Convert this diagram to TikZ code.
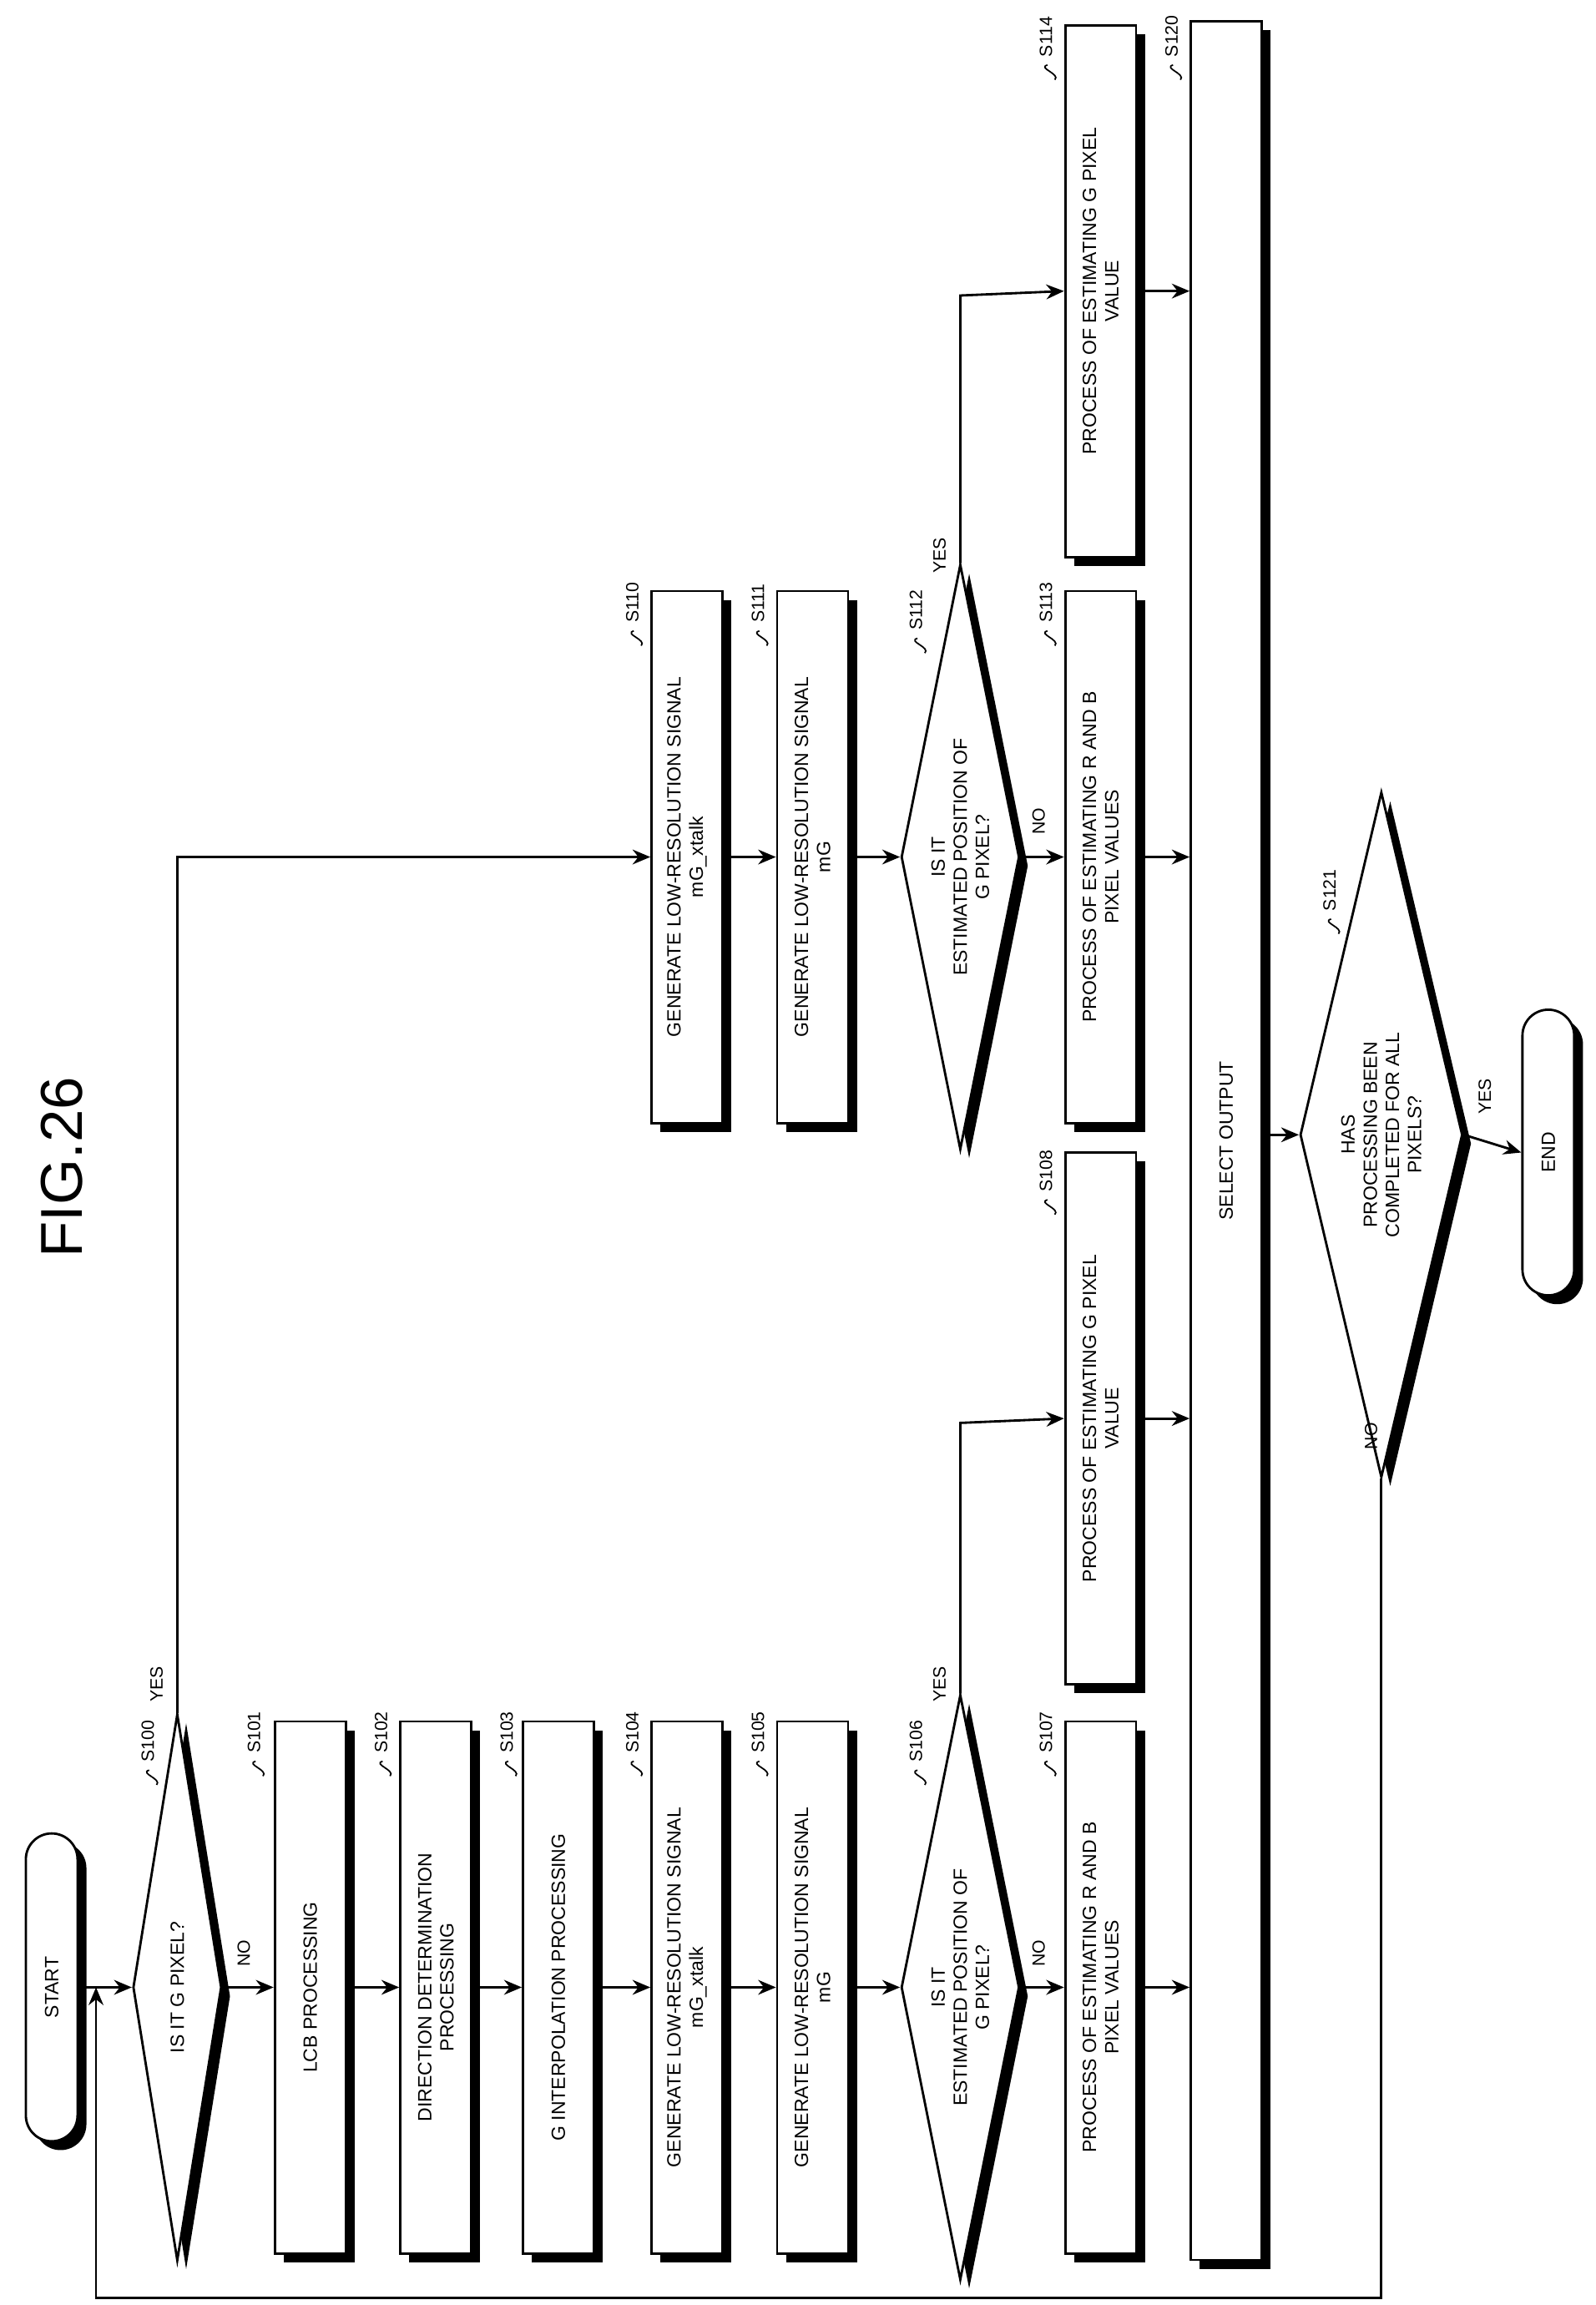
\documentclass[tikz,border=0pt]{standalone}
\usepackage{fontspec}
\setmainfont{Liberation Sans}
\usetikzlibrary{shapes.geometric,shapes.misc,shadows,arrows.meta}
\begin{document}
\begin{tikzpicture}[x=1pt,y=-1pt,
  every node/.style={font=\fontsize{13}{15}\selectfont},
  shad/.style={general shadow={fill=black, shadow xshift=6pt, shadow yshift=-6pt}},
  pbox/.style={draw, line width=1.6pt, fill=white, rotate=90, align=center, minimum width=360pt, minimum height=48pt, inner sep=1pt, shad},
  dec/.style={draw, diamond, line width=1.6pt, fill=white, rotate=90, align=center, aspect=6, inner sep=0pt, shad},
  term/.style={draw, rounded rectangle, line width=1.6pt, fill=white, rotate=90, minimum height=35pt, shad},
  arr/.style={line width=1.6pt, -{Stealth[length=12pt,width=10pt]}},
  ln/.style={line width=1.6pt},
  lab/.style={rotate=90, font=\fontsize{12}{14}\selectfont},
  stp/.style={rotate=90, anchor=west, font=\fontsize{12}{14}\selectfont}]
\useasboundingbox (0,0) rectangle (1080,1560);
\node[rotate=90, font=\fontsize{40}{44}\selectfont] (fig) at (42,790) {FIG.26};
\node[term, minimum width=215pt] (start) at (35,1345) {START};
\node[dec, minimum width=370pt, minimum height=60pt] (d100) at (120,1345) {IS IT G PIXEL?};
\node[pbox] (b101) at (210,1345) {LCB PROCESSING};
\node[pbox] (b102) at (295,1345) {DIRECTION DETERMINATION\\PROCESSING};
\node[pbox] (b103) at (378,1345) {G INTERPOLATION PROCESSING};
\node[pbox] (b104) at (465,1345) {GENERATE LOW-RESOLUTION SIGNAL\\mG\_xtalk};
\node[pbox] (b105) at (550,1345) {GENERATE LOW-RESOLUTION SIGNAL\\mG};
\node[dec, minimum width=370pt, minimum height=80pt] (d106) at (650,1345) {IS IT\\ESTIMATED POSITION OF\\G PIXEL?};
\node[pbox] (b107) at (745,1345) {PROCESS OF ESTIMATING R AND B\\PIXEL VALUES};
\node[pbox] (b108) at (745,960) {PROCESS OF ESTIMATING G PIXEL\\VALUE};
\node[pbox] (b110) at (465,580) {GENERATE LOW-RESOLUTION SIGNAL\\mG\_xtalk};
\node[pbox] (b111) at (550,580) {GENERATE LOW-RESOLUTION SIGNAL\\mG};
\node[dec, minimum width=370pt, minimum height=80pt] (d112) at (650,580) {IS IT\\ESTIMATED POSITION OF\\G PIXEL?};
\node[pbox] (b113) at (745,580) {PROCESS OF ESTIMATING R AND B\\PIXEL VALUES};
\node[pbox] (b114) at (745,197) {PROCESS OF ESTIMATING G PIXEL\\VALUE};
\node[pbox, minimum width=1515pt] (sel) at (830,772) {SELECT OUTPUT};
\node[dec, minimum width=355pt, minimum height=110pt] (d121) at (935,768) {HAS\\PROCESSING BEEN\\COMPLETED FOR ALL\\PIXELS?};
\node[term, minimum width=200pt] (end) at (1048,780) {END};
% connectors
\draw[arr] (start.south) -- (d100.north);
\draw[arr] (d100.south) -- (b101.north);
\draw[arr] (b101.south) -- (b102.north);
\draw[arr] (b102.south) -- (b103.north);
\draw[arr] (b103.south) -- (b104.north);
\draw[arr] (b104.south) -- (b105.north);
\draw[arr] (b105.south) -- (d106.north);
\draw[arr] (d106.south) -- (b107.north);
\coordinate (y106) at (650,963);
\draw[arr] (d106.east) -- (y106) -- (b108.north);
\draw[arr] (b107.south) -- (b107.south -| sel.north);
\draw[arr] (b108.south) -- (b108.south -| sel.north);
\coordinate (y100) at (120,580);
\draw[arr] (d100.east) -- (y100) -- (b110.north);
\draw[arr] (b110.south) -- (b111.north);
\draw[arr] (b111.south) -- (d112.north);
\draw[arr] (d112.south) -- (b113.north);
\coordinate (y112) at (650,200);
\draw[arr] (d112.east) -- (y112) -- (b114.north);
\draw[arr] (b113.south) -- (b113.south -| sel.north);
\draw[arr] (b114.south) -- (b114.south -| sel.north);
\draw[arr] (sel.south |- d121.north) -- (d121.north);
\draw[arr] (d121.south) -- (end.north);
\coordinate (l1) at (940,1555);
\coordinate (l2) at (65,1555);
\draw[arr] (d121.west) -- (d121.west |- l1) -- (l2) -- (l2 |- start.south);
% yes/no labels
\node[lab] at (106,1140) {YES};
\node[lab] at (165,1322) {NO};
\node[lab] at (636,1140) {YES};
\node[lab] at (703,1322) {NO};
\node[lab] at (636,376) {YES};
\node[lab] at (703,556) {NO};
\node[lab] at (1005,742) {YES};
\node[lab] at (928,972) {NO};
% step labels
\foreach \nm/\px/\py in {S100/100/1196, S101/172/1190, S102/258/1190, S103/343/1190, S104/428/1190, S105/513/1190,
  S106/620/1196, S107/708/1190, S108/708/810, S110/428/425, S111/513/425, S112/620/430, S113/708/425, S114/708/42, S120/793/42, S121/900/620}{
  \node[stp] (t\nm) at (\px,\py) {\nm};
  \draw[line width=1pt] (\px+1,\py+2) .. controls (\px-6,\py+4) and (\px+10,\py+8) .. (\px+6,\py+12);
}
\end{tikzpicture}
\end{document}
